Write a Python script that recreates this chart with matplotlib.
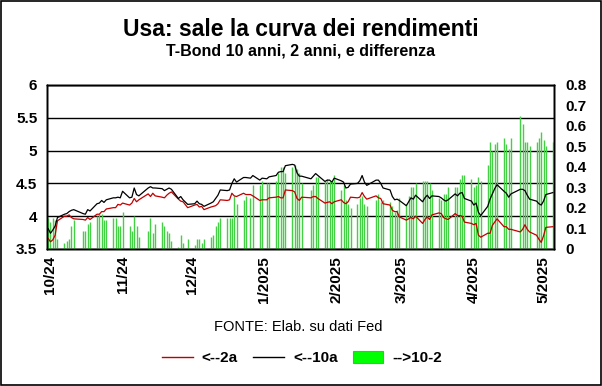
import matplotlib
matplotlib.use("Agg")
import matplotlib.pyplot as plt
import matplotlib.dates as mdates
from matplotlib.patches import Rectangle, Patch
from matplotlib.lines import Line2D
import pandas as pd
import numpy as np

plt.rcParams['font.family'] = ['Liberation Sans', 'DejaVu Sans']

# ---- data -------------------------------------------------------------
start_date = '2024-09-30'
end_date = '2025-05-05'
holidays = ['2024-10-14', '2024-11-11', '2024-11-28', '2024-12-25',
            '2025-01-01', '2025-01-20', '2025-02-17', '2025-04-18']

# 10-year yield (left axis)
y10 = [3.81, 3.74, 3.79, 3.85, 3.98, 4.03, 4.04, 4.07, 4.09, 4.10, 4.04, 4.03, 4.10, 4.08,
       4.19, 4.20, 4.24, 4.21, 4.25, 4.28, 4.28, 4.29, 4.28,
       4.38, 4.28, 4.29, 4.43, 4.33, 4.31, 4.43, 4.45, 4.43, 4.43, 4.42, 4.39, 4.41, 4.43, 4.41,
       4.27, 4.30, 4.25, 4.18,
       4.19, 4.23, 4.19, 4.18, 4.15, 4.20, 4.22, 4.27, 4.32, 4.40, 4.39, 4.40, 4.50, 4.57, 4.52,
       4.59, 4.59, 4.58, 4.62, 4.55, 4.58,
       4.57, 4.60, 4.62, 4.67, 4.68, 4.68, 4.77, 4.79, 4.78, 4.66, 4.61, 4.61, 4.57, 4.61, 4.65,
       4.62, 4.53, 4.55, 4.55, 4.52, 4.58,
       4.54, 4.52, 4.43, 4.44, 4.49, 4.50, 4.54, 4.62, 4.52, 4.47, 4.55, 4.55, 4.50, 4.43,
       4.40, 4.30, 4.25, 4.26, 4.24,
       4.16, 4.22, 4.28, 4.26, 4.32, 4.22, 4.28, 4.32, 4.27, 4.31, 4.30, 4.28, 4.25, 4.23, 4.25,
       4.34, 4.31, 4.35, 4.36, 4.27, 4.23,
       4.17, 4.20, 4.06, 4.01, 4.15, 4.26, 4.34, 4.42, 4.48, 4.38, 4.35, 4.29, 4.34,
       4.41, 4.41, 4.39, 4.32, 4.26, 4.23, 4.19, 4.17,
       4.23, 4.33, 4.36]

# 2-year yield (left axis)
y2 = [3.66, 3.61, 3.64, 3.71, 3.93, 4.00, 4.00, 4.02, 3.98, 3.96, 3.95, 3.94, 3.98, 3.95,
      4.03, 4.03, 4.07, 4.07, 4.11, 4.13, 4.13, 4.18, 4.17,
      4.20, 4.17, 4.20, 4.27, 4.22, 4.25, 4.34, 4.30, 4.35, 4.31, 4.29, 4.28, 4.32, 4.35, 4.37,
      4.26, 4.23, 4.22, 4.13,
      4.17, 4.18, 4.14, 4.15, 4.10, 4.14, 4.15, 4.16, 4.19, 4.25, 4.24, 4.25, 4.35, 4.31, 4.30,
      4.35, 4.33, 4.33, 4.31, 4.24, 4.25,
      4.25, 4.28, 4.29, 4.30, 4.28, 4.28, 4.40, 4.39, 4.37, 4.27, 4.24, 4.29, 4.28, 4.30, 4.30,
      4.27, 4.20, 4.21, 4.22, 4.19, 4.22,
      4.25, 4.21, 4.19, 4.22, 4.29, 4.28, 4.29, 4.36, 4.30, 4.26, 4.31, 4.28, 4.27, 4.19,
      4.17, 4.09, 4.07, 4.07, 3.99,
      3.94, 3.96, 3.98, 3.96, 4.00, 3.89, 3.95, 3.99, 3.95, 4.02, 4.05, 4.04, 3.98, 3.96, 3.95,
      4.04, 4.01, 4.01, 4.00, 3.91, 3.89,
      3.87, 3.89, 3.71, 3.68, 3.74, 3.74, 3.86, 3.91, 3.96, 3.84, 3.84, 3.80, 3.80,
      3.76, 3.80, 3.87, 3.80, 3.76, 3.71, 3.65, 3.60,
      3.70, 3.83, 3.84]

# spread 10-2 (right axis, bars)
spread = [0.15, 0.13, 0.15, 0.14, 0.05, 0.03, 0.04, 0.05, 0.11, 0.14, 0.09, 0.09, 0.12, 0.13,
          0.16, 0.17, 0.17, 0.14, 0.14, 0.15, 0.15, 0.11, 0.11,
          0.18, 0.11, 0.09, 0.16, 0.11, 0.06, 0.09, 0.15, 0.08, 0.12, 0.13, 0.11, 0.09, 0.08, 0.04,
          0.01, 0.07, 0.03, 0.05,
          0.02, 0.05, 0.05, 0.03, 0.05, 0.06, 0.07, 0.11, 0.13, 0.15, 0.15, 0.15, 0.15, 0.26, 0.22,
          0.24, 0.26, 0.25, 0.31, 0.31, 0.33,
          0.32, 0.32, 0.33, 0.37, 0.40, 0.40, 0.37, 0.40, 0.41, 0.39, 0.37, 0.32, 0.29, 0.31, 0.35,
          0.35, 0.33, 0.34, 0.33, 0.33, 0.36,
          0.29, 0.31, 0.24, 0.22, 0.20, 0.22, 0.25, 0.26, 0.22, 0.21, 0.24, 0.27, 0.23, 0.24,
          0.23, 0.21, 0.18, 0.19, 0.25,
          0.22, 0.26, 0.30, 0.30, 0.32, 0.33, 0.33, 0.33, 0.32, 0.29, 0.25, 0.24, 0.27, 0.27, 0.30,
          0.30, 0.30, 0.34, 0.36, 0.36, 0.34,
          0.30, 0.31, 0.35, 0.33, 0.41, 0.52, 0.48, 0.51, 0.52, 0.54, 0.51, 0.49, 0.54,
          0.65, 0.61, 0.52, 0.52, 0.50, 0.52, 0.54, 0.57,
          0.53, 0.50, 0.52]

tick_dates = ['2024-10-01', '2024-11-01', '2024-12-01', '2025-01-01',
              '2025-02-01', '2025-03-01', '2025-04-01', '2025-05-01']
tick_labels = ['10/24', '11/24', '12/24', '1/2025', '2/2025', '3/2025', '4/2025', '5/2025']

left_ticks = [3.5, 4, 4.5, 5, 5.5, 6]
left_labels = ['3.5', '4', '4.5', '5', '5.5', '6']
right_ticks = [0, 0.1, 0.2, 0.3, 0.4, 0.5, 0.6, 0.7, 0.8]
right_labels = ['0', '0.1', '0.2', '0.3', '0.4', '0.5', '0.6', '0.7', '0.8']

title = 'Usa: sale la curva dei rendimenti'
subtitle = 'T-Bond 10 anni, 2 anni, e differenza'
source = 'FONTE: Elab. su dati Fed'
legend_labels = ['<--2a', '<--10a', '-->10-2']

# ---- build dates ------------------------------------------------------
dates = pd.bdate_range(start_date, end_date)
dates = dates[~dates.isin(pd.to_datetime(holidays))]
n = min(len(dates), len(y10), len(y2), len(spread))
dates = dates[:n]
y10 = y10[:n]; y2 = y2[:n]; spread = spread[:n]

# ---- figure -----------------------------------------------------------
fig = plt.figure(figsize=(6.02, 3.86), dpi=100)
fig.patch.set_facecolor('white')

W, H = 602.0, 386.0
x0, x1, ytop, ybot = 47, 554, 85, 249
rect = [x0 / W, 1 - ybot / H, (x1 - x0) / W, (ybot - ytop) / H]

ax = fig.add_axes(rect)          # grid + left scale
ax2 = ax.twinx()                 # bars, right scale
ax3 = ax.twinx()                 # lines, left scale on top

xmin = mdates.date2num(pd.Timestamp(start_date)) - 0.5
xmax = mdates.date2num(pd.Timestamp(end_date)) + 0.5

for a in (ax, ax2, ax3):
    a.set_xlim(xmin, xmax)

ax.set_ylim(3.5, 6)
ax3.set_ylim(3.5, 6)
ax2.set_ylim(0, 0.8)

# grid
ax.set_yticks(left_ticks)
ax.set_yticklabels(left_labels)
ax.yaxis.grid(True, color='black', lw=1.0)
ax.set_axisbelow(True)

# bars (thin columns)
xd = mdates.date2num(dates)
ax2.vlines(xd, 0, spread, color='#44d044', lw=1.0, zorder=2)
ax2.set_yticks(right_ticks)
ax2.set_yticklabels(right_labels)

# lines
ax3.plot(xd, y2, color='#c00000', lw=0.9)
ax3.plot(xd, y10, color='black', lw=0.9)
ax3.set_yticks([])
ax3.patch.set_visible(False)
ax2.patch.set_visible(False)

# ticks styling
for lab in ax.get_yticklabels():
    lab.set_fontsize(11); lab.set_fontweight('bold')
for lab in ax2.get_yticklabels():
    lab.set_fontsize(11); lab.set_fontweight('bold')
ax.tick_params(axis='y', length=0, pad=7)
ax2.tick_params(axis='y', length=0, pad=8)

ax.set_xticks(mdates.date2num(pd.to_datetime(tick_dates)))
ax.set_xticklabels(tick_labels, rotation=90, fontsize=11, fontweight='bold')
ax.tick_params(axis='x', length=0, pad=5)
ax2.tick_params(axis='x', length=0, labelbottom=False)
ax3.tick_params(axis='x', length=0, labelbottom=False)

for a in (ax, ax2, ax3):
    for s in a.spines.values():
        s.set_color('black')
        s.set_linewidth(1.0)

# texts
fig.text(0.5, 1 - 30 / H, title, ha='center', va='center', fontsize=16.5, fontweight='bold')
fig.text(0.5, 1 - 51 / H, subtitle, ha='center', va='center', fontsize=11.5, fontweight='bold')
fig.text(0.496, 1 - 327 / H, source, ha='center', va='center', fontsize=10.5)

handles = [Line2D([], [], color='#c00000', lw=1.0),
           Line2D([], [], color='black', lw=1.0),
           Patch(facecolor='#00ff00', edgecolor='#44bb44', lw=0.8)]
leg = fig.legend(handles, legend_labels, loc='center', bbox_to_anchor=(0.502, 1 - 358 / H),
                 ncol=3, frameon=False, prop={'size': 11, 'weight': 'bold'},
                 handlelength=2.0, handleheight=0.9, handletextpad=0.6, columnspacing=1.0)

# outer frame
fig.patches.append(Rectangle((0.002, 0.003), 0.996, 0.994, transform=fig.transFigure,
                             fill=False, edgecolor='black', lw=1.2))

fig.savefig('out.png', dpi=100, facecolor='white')
